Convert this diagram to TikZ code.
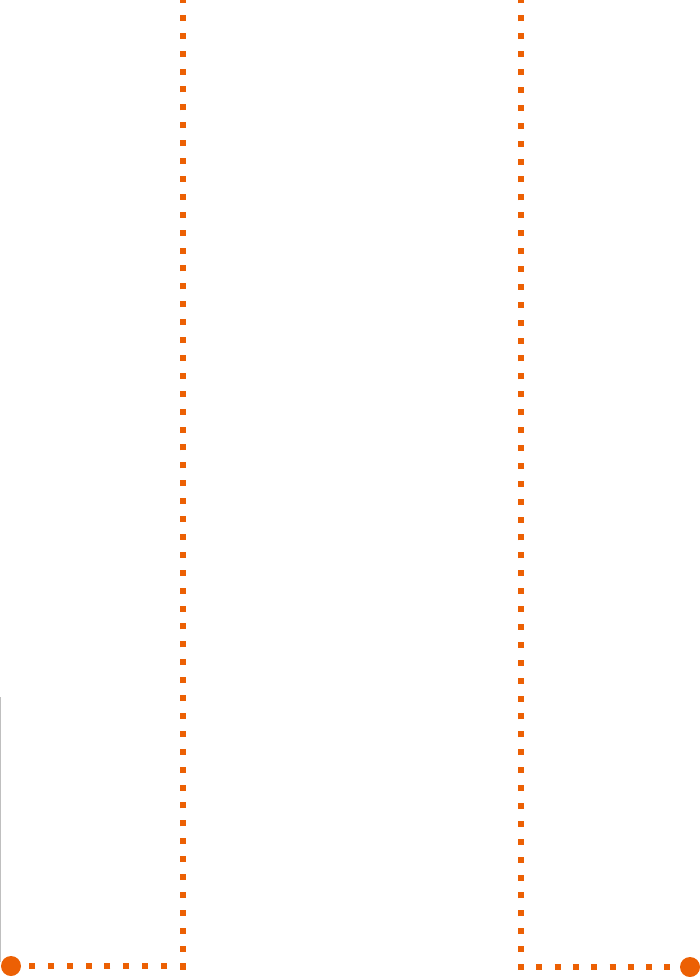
\documentclass[tikz,border=0pt]{standalone}
\definecolor{naranja}{RGB}{236,96,4}
\begin{document}
\begin{tikzpicture}[x=1pt,y=-1pt,
    puntos/.style={draw=naranja, line width=6pt},
    punto/.style={circle, fill=naranja, minimum size=20pt, inner sep=0pt}]
    % Marco
    \useasboundingbox (0,0) rectangle (700,977);
    % Extremos
    \node[punto] (izq) at (11,966) {};
    \node[punto] (der) at (690,967) {};
    \coordinate (pieI) at (183,969.5);
    \coordinate (topeI) at (183,-5);
    \coordinate (esqI) at (186,966);
    \coordinate (pieD) at (521,970);
    \coordinate (topeD) at (521,-5);
    \coordinate (esqD) at (518,967);
    % Verticales
    \draw[puntos, dash pattern=on 6pt off 11.9pt] (pieI) -- (topeI);
    \draw[puntos, dash pattern=on 6pt off 11.9pt] (pieD) -- (topeD);
    % Horizontales
    \draw[puntos, dash pattern=on 6pt off 12.9pt] (esqI) -- (izq);
    \draw[puntos, dash pattern=on 6pt off 12.3pt] (esqD) -- (der);
    % Borde
    \draw[gray!50, line width=1pt] (0.5,697) -- (0.5,962);
\end{tikzpicture}
\end{document}
